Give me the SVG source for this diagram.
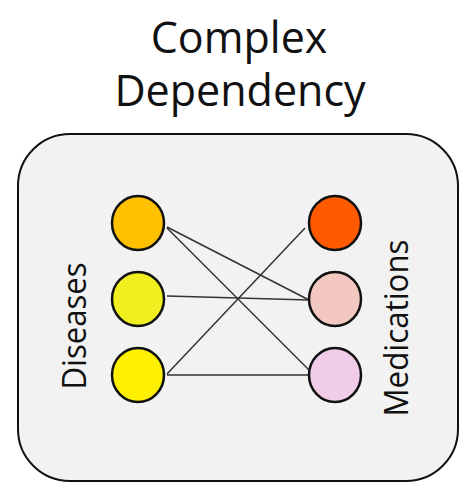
<svg xmlns="http://www.w3.org/2000/svg" width="461" height="484" viewBox="0 0 461 484">
  <style>
    .title { font-family: "Open Sans", "Liberation Sans", sans-serif; font-size: 43px; fill: #111; text-anchor: middle; }
    .side { font-family: "Open Sans", "Liberation Sans", sans-serif; font-size: 33px; fill: #111; text-anchor: middle; }
    .node { stroke: #111; stroke-width: 2.5; }
    .edge { stroke: #333; stroke-width: 1.5; fill: none; }
  </style>
  <rect width="461" height="484" fill="#ffffff"/>

  <!-- title -->
  <text class="title" x="239" y="53">Complex</text>
  <text class="title" x="240" y="106">Dependency</text>

  <!-- container -->
  <rect id="panel" x="18" y="134" width="440" height="347" rx="52" ry="52" fill="#f2f2f2" stroke="#111" stroke-width="2"/>

  <!-- group labels -->
  <text class="side" transform="translate(86,326) rotate(-90)" textLength="127" lengthAdjust="spacingAndGlyphs">Diseases</text>
  <text class="side" transform="translate(408,328) rotate(-90)" textLength="177" lengthAdjust="spacingAndGlyphs">Medications</text>

  <!-- links between diseases and medications -->
  <g id="connectors">
    <line class="edge" x1="167" y1="227" x2="309" y2="300"/>
    <line class="edge" x1="167" y1="228" x2="310" y2="371"/>
    <line class="edge" x1="167" y1="296" x2="309" y2="300"/>
    <line class="edge" x1="167" y1="374" x2="305" y2="228"/>
    <line class="edge" x1="167" y1="375" x2="309" y2="375"/>
  </g>

  <!-- diseases -->
  <g id="disease1"><ellipse class="node" cx="138" cy="223" rx="26" ry="27" fill="#ffc000"/></g>
  <g id="disease2"><ellipse class="node" cx="138" cy="299" rx="26" ry="27" fill="#f0f021"/></g>
  <g id="disease3"><ellipse class="node" cx="138" cy="375" rx="26" ry="27" fill="#ffef00"/></g>

  <!-- medications -->
  <g id="medication1"><ellipse class="node" cx="335" cy="223" rx="26" ry="27" fill="#ff5a00"/></g>
  <g id="medication2"><ellipse class="node" cx="335" cy="299" rx="26" ry="27" fill="#f2c8c0"/></g>
  <g id="medication3"><ellipse class="node" cx="335" cy="375" rx="26" ry="27" fill="#f0cce8"/></g>
</svg>
